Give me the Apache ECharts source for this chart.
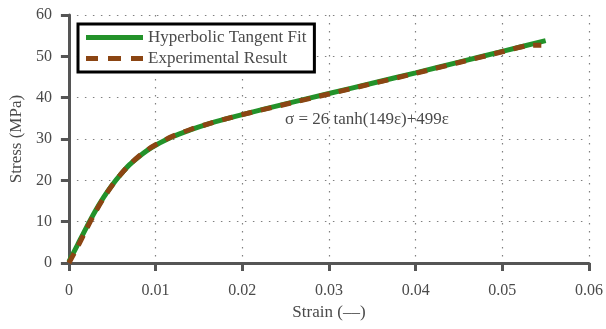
<!DOCTYPE html>
<html>
<head>
<meta charset="utf-8">
<script src="https://cdn.jsdelivr.net/npm/echarts@6/dist/echarts.min.js"></script>
<style>
html,body{margin:0;padding:0;background:#fff;}
#c{width:606px;height:329px;}
</style>
</head>
<body>
<div id="c"></div>
<script>
var xTicks = [0, 0.01, 0.02, 0.03, 0.04, 0.05, 0.06];
var yTicks = [0, 10, 20, 30, 40, 50, 60];
var fitName = 'Hyperbolic Tangent Fit';
var expName = 'Experimental Result';
var fitStrain = [0, 0.001, 0.002, 0.003, 0.004, 0.005, 0.006, 0.007, 0.008, 0.009, 0.010, 0.012, 0.014, 0.016, 0.018, 0.020, 0.025, 0.030, 0.035, 0.040, 0.045, 0.050, 0.055];
var fitStress = [0.3, 4.4, 8.5, 12.4, 15.9, 18.9, 21.5, 23.8, 25.6, 27.2, 28.5, 30.6, 32.2, 33.6, 34.8, 35.9, 38.5, 41.0, 43.5, 46.0, 48.6, 51.2, 53.8];
var expStrain = [0, 0.001, 0.002, 0.003, 0.004, 0.005, 0.006, 0.007, 0.008, 0.009, 0.010, 0.012, 0.014, 0.016, 0.018, 0.020, 0.025, 0.030, 0.035, 0.040, 0.045, 0.050, 0.053, 0.0545];
var expStress = [0, 3.9, 8.1, 12.1, 15.7, 18.8, 21.5, 23.8, 25.7, 27.3, 28.6, 30.7, 32.3, 33.6, 34.8, 35.9, 38.4, 40.9, 43.4, 45.9, 48.5, 51.1, 52.6, 52.7];
var equationText = 'σ = 26 tanh(149ε)+499ε';
var xLabel = 'Strain (––)';
var yLabel = 'Stress (MPa)';

function pairs(xs, ys){ return xs.map(function(x,i){ return [x, ys[i]]; }); }

var FONT = '"Liberation Serif", "DejaVu Serif", serif';
var TXT = '#4a4a4a';
var AX = '#555555';
var GRID = '#808080';
var GREEN = '#23922a';
var BROWN = '#8b4513';

var chart = echarts.init(document.getElementById('c'), null, {renderer:'canvas'});
chart.setOption({
  animation: false,
  backgroundColor: '#fff',
  textStyle: {fontFamily: FONT},
  grid: {left: 68, right: 17, top: 15, bottom: 66},
  xAxis: {
    type: 'value', min: xTicks[0], max: xTicks[xTicks.length-1], interval: 0.01,
    name: xLabel, nameLocation: 'middle', nameGap: 41,
    nameTextStyle: {fontFamily: FONT, fontSize: 17, color: TXT},
    axisLine: {show: true, lineStyle: {color: AX, width: 3}},
    axisTick: {show: true, inside: false, length: 8, lineStyle: {color: AX, width: 3}},
    axisLabel: {margin: 20, fontFamily: FONT, fontSize: 16, color: TXT,
      formatter: function(v){ return String(parseFloat(v.toFixed(4))); }},
    splitLine: {show: true, lineStyle: {color: GRID, width: 1.2, type: [1.5, 6.5]}}
  },
  yAxis: {
    type: 'value', min: yTicks[0], max: yTicks[yTicks.length-1], interval: 10,
    name: yLabel, nameLocation: 'middle', nameGap: 42,
    nameTextStyle: {fontFamily: FONT, fontSize: 17, color: TXT},
    axisLine: {show: true, lineStyle: {color: AX, width: 3}},
    axisTick: {show: true, inside: false, length: 8, lineStyle: {color: AX, width: 3}},
    axisLabel: {margin: 17, fontFamily: FONT, fontSize: 16, color: TXT},
    splitLine: {show: true, lineStyle: {color: GRID, width: 1.2, type: [1.5, 6.5]}}
  },
  legend: {
    orient: 'vertical', left: 78, top: 24,
    data: [
      {name: fitName, icon: 'path://M0,0h57v5h-57z'},
      {name: expName, icon: 'path://M0,0h12v5h-12zM22,0h13v5h-13zM45,0h12v5h-12z'}
    ],
    itemWidth: 57, itemHeight: 5, itemGap: 4, itemTextGap: 5,
    padding: [5, 8, 5, 8],
    borderColor: '#000', borderWidth: 3, borderRadius: 0,
    backgroundColor: '#fff',
    itemStyle: {borderWidth: 0},
    textStyle: {fontFamily: FONT, fontSize: 17, color: TXT}
  },
  graphic: [{
    type: 'text', left: 285, top: 111, z: 10,
    style: {text: equationText, font: '17px ' + FONT, fill: TXT}
  }],
  series: [{
    name: fitName, type: 'line', data: pairs(fitStrain, fitStress),
    smooth: 0.3, symbol: 'none', showSymbol: false,
    lineStyle: {color: GREEN, width: 5}, itemStyle: {color: GREEN}
  }, {
    name: expName, type: 'line', data: pairs(expStrain, expStress),
    smooth: 0.3, symbol: 'none', showSymbol: false,
    lineStyle: {color: BROWN, width: 5, type: [11, 9]}, itemStyle: {color: BROWN}
  }]
});
</script>
</body>
</html>
